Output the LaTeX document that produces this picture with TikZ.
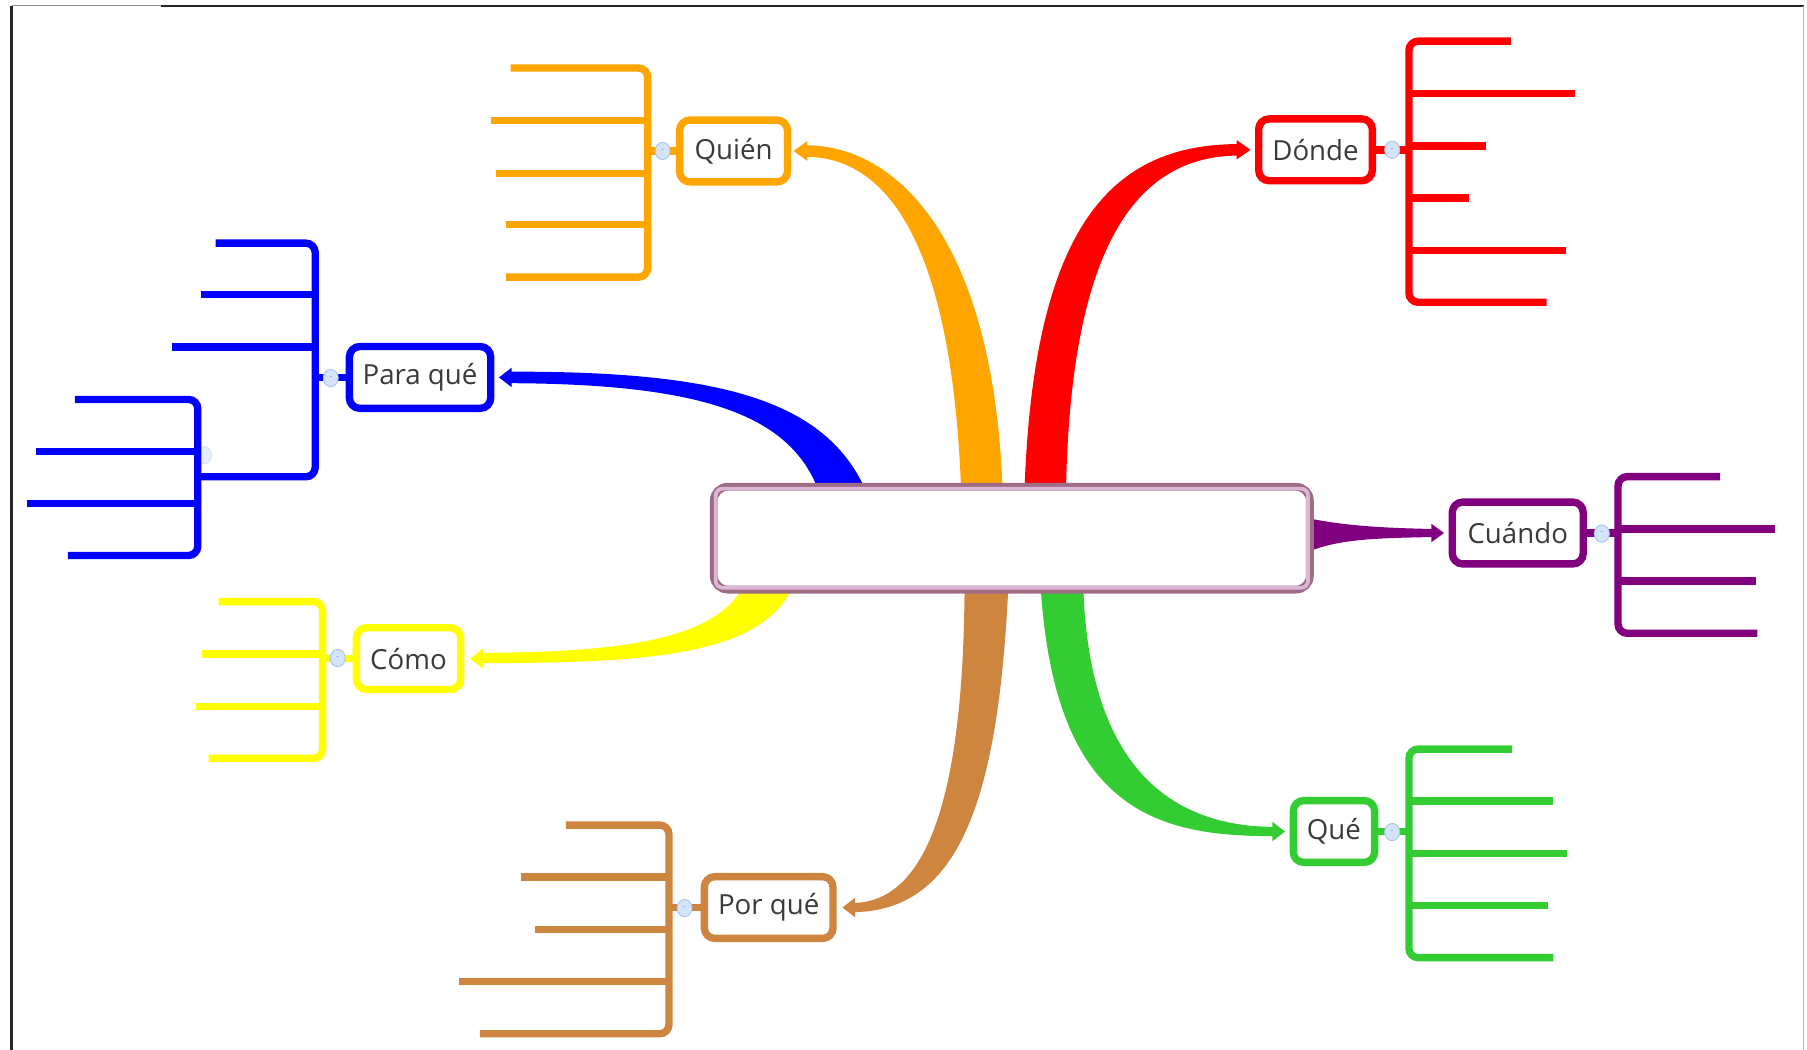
\documentclass[tikz,border=0pt]{standalone}
\usepackage{fontspec}
\setmainfont{Open Sans}
\usetikzlibrary{calc,shapes.geometric}
\pgfdeclarelayer{bg}
\pgfsetlayers{bg,main}
\definecolor{cOr}{HTML}{FFA500}
\definecolor{cRe}{HTML}{FF0000}
\definecolor{cBl}{HTML}{0000FF}
\definecolor{cYe}{HTML}{FFFF00}
\definecolor{cPe}{HTML}{CD853F}
\definecolor{cGr}{HTML}{33CC33}
\definecolor{cPu}{HTML}{800080}
\definecolor{cMa}{HTML}{9E6C86}
\definecolor{cPk}{HTML}{DDB8D6}
\definecolor{cTx}{HTML}{3A3A3A}
\definecolor{cCi}{HTML}{D4E4FA}
\definecolor{cCb}{HTML}{A9C6EE}
\begin{document}
\begin{tikzpicture}[x=0.5pt,y=-0.5pt,
  topic/.style={draw=#1, line width=3.2pt, rounded corners=4.5pt, fill=white, text=cTx,
    font=\fontsize{12}{14}\selectfont, minimum height=26.8pt, inner sep=0pt},
  brk/.style={draw=#1, line width=3.2pt, rounded corners=4pt},
  lnk/.style={draw=#1, line width=3.2pt},
  knob/.style={ellipse, fill=cCi, draw=cCb, line width=0.4pt, minimum width=6.5pt, minimum height=7.5pt, inner sep=0pt,
    font=\fontsize{4}{4}\selectfont, text=cCb!80!black}
]
\useasboundingbox (0,0) rectangle (1568,911);
% frame
\draw[black!45, line width=0.5pt] (10,5) -- (140,5);
\draw[black!85, line width=0.9pt] (140,5) -- (1565,5);
\draw[black!85, line width=0.9pt] (10,5) -- (10,915);
\draw[black!30, line width=0.5pt] (1565,5) -- (1565,911);

% central node
\node[draw=cMa, line width=3.4pt, rounded corners=6pt, fill=white, minimum width=258.6pt,
      minimum height=44.6pt, inner sep=0pt] (centro) at (878,467) {};
\draw[cPk, line width=1.6pt, rounded corners=3pt]
  ($(centro.north west)+(5,5)$) rectangle ($(centro.south east)+(-5,-5)$);

% topic nodes
\node[topic=cOr, minimum width=46.8pt] (quien)   at (636.5,131)   {Quién};
\node[topic=cRe, minimum width=49.3pt] (donde)   at (1141.5,130)  {Dónde};
\node[topic=cBl, minimum width=61.3pt] (paraque) at (364.5,327.5) {Para qué};
\node[topic=cYe, minimum width=45.3pt] (como)    at (354.5,571.5) {Cómo};
\node[topic=cPe, minimum width=55.8pt] (porque)  at (667,787.5)   {Por qué};
\node[topic=cGr, minimum width=35.3pt] (que)     at (1157.5,721.5){Qué};
\node[topic=cPu, minimum width=56.8pt] (cuando)  at (1317,462.5)  {Cuándo};

% tapered connectors
\begin{pgfonlayer}{bg}
\fill[cOr] (870,425) .. controls (862,210) and (780,126) .. ($(quien.east)+(12,-5)$)
  -- ($(quien.east)+(12,5)$) .. controls (772,136) and (826,215) .. (834,425) -- cycle;
\fill[cOr] ($(quien.east)+(2,0)$) -- ($(quien.east)+(14,-8.5)$) -- ($(quien.east)+(14,8.5)$) -- cycle;

\fill[cRe] (889,425) .. controls (897,195) and (965,125) .. ($(donde.west)+(-14,-5)$)
  -- ($(donde.west)+(-14,5)$) .. controls (985,135) and (929,215) .. (925,425) -- cycle;
\fill[cRe] ($(donde.west)+(-4,0)$) -- ($(donde.west)+(-16,-8.5)$) -- ($(donde.west)+(-16,8.5)$) -- cycle;

\fill[cBl] (751,425) .. controls (715,345) and (620,322) .. ($(paraque.east)+(12,-5)$)
  -- ($(paraque.east)+(12,5)$) .. controls (610,333) and (685,360) .. (710,425) -- cycle;
\fill[cBl] ($(paraque.east)+(4,0)$) -- ($(paraque.east)+(15,-8.5)$) -- ($(paraque.east)+(15,8.5)$) -- cycle;

\fill[cYe] (645,509) .. controls (620,555) and (540,566) .. ($(como.east)+(14,-5)$)
  -- ($(como.east)+(14,4)$) .. controls (560,575) and (660,570) .. (688,509) -- cycle;
\fill[cYe] ($(como.east)+(5,0)$) -- ($(como.east)+(16,-8.5)$) -- ($(como.east)+(16,8.5)$) -- cycle;

\fill[cPe] (875,509) .. controls (866,700) and (830,790) .. ($(porque.east)+(15,4)$)
  -- ($(porque.east)+(15,-4)$) .. controls (805,782) and (836,690) .. (837,509) -- cycle;
\fill[cPe] ($(porque.east)+(5,0)$) -- ($(porque.east)+(16,-8.5)$) -- ($(porque.east)+(16,8.5)$) -- cycle;

\fill[cGr] (903,509) .. controls (915,700) and (1000,726) .. ($(que.west)+(-14,4)$)
  -- ($(que.west)+(-14,-4)$) .. controls (1020,717) and (945,670) .. (940,509) -- cycle;
\fill[cGr] ($(que.west)+(-4,0)$) -- ($(que.west)+(-15,-8.5)$) -- ($(que.west)+(-15,8.5)$) -- cycle;

\fill[cPu] (1132,449) .. controls (1160,455) and (1190,458) .. ($(cuando.west)+(-14,-3.5)$)
  -- ($(cuando.west)+(-14,3.5)$) .. controls (1190,467) and (1160,468) .. (1132,480) -- cycle;
\fill[cPu] ($(cuando.west)+(-4,0)$) -- ($(cuando.west)+(-15,-8)$) -- ($(cuando.west)+(-15,8)$) -- cycle;
\end{pgfonlayer}

% Quién bracket
\draw[lnk=cOr] (quien.west) -- (562,131);
\draw[brk=cOr] (443,59) -- (562,59) -- (562,240.5) -- (439,240.5);
\draw[brk=cOr] (426,104.6) -- (562,104.6) (430,150.8) -- (562,150.8) (439,195) -- (562,195);
\node[knob] (kq) at (575,131) {-};

% Dónde bracket
\draw[lnk=cRe] (donde.east) -- (1222.6,130);
\draw[brk=cRe] (1311,35.7) -- (1222.6,35.7) -- (1222.6,262.3) -- (1342,262.3);
\draw[brk=cRe] (1366.5,81.3) -- (1222.6,81.3) (1289.5,126.7) -- (1222.6,126.7)
  (1274.4,171.7) -- (1222.6,171.7) (1359,217.3) -- (1222.6,217.3);
\node[knob] (kd) at (1208,130) {-};

% Para qué bracket
\draw[lnk=cBl] (paraque.west) -- (273.5,327.5);
\node[knob, fill=cCi!60, draw=cCb!50] (kp2) at (177,395) {};
\draw[brk=cBl] (187,211) -- (273.5,211) -- (273.5,413.7) -- (171.6,413.7);
\draw[brk=cBl] (174,255.6) -- (273.5,255.6) (149,301) -- (273.5,301);
\draw[brk=cBl] (65,346.6) -- (171.6,346.6) -- (171.6,482) -- (59,482);
\draw[brk=cBl] (31.5,391.6) -- (171.6,391.6) (23,436.8) -- (171.6,436.8);
\node[knob] (kp) at (287,328) {-};

% Cómo bracket
\draw[lnk=cYe] (como.west) -- (280,571.5);
\draw[brk=cYe] (189.7,522) -- (280,522) -- (280,658) -- (181,658);
\draw[brk=cYe] (175.7,567.4) -- (280,567.4) (170,612.8) -- (280,612.8);
\node[knob] (kc) at (293,571) {-};

% Por qué bracket
\draw[lnk=cPe] (porque.west) -- (580.5,787.5);
\draw[brk=cPe] (491,716) -- (580.5,716) -- (580.5,897) -- (416.5,897);
\draw[brk=cPe] (452,761) -- (580.5,761) (464.5,806.5) -- (580.5,806.5) (398.4,851.8) -- (580.5,851.8);
\node[knob] (kpq) at (594,788) {-};

% Qué bracket
\draw[lnk=cGr] (que.east) -- (1222.6,721.5);
\draw[brk=cGr] (1312,650) -- (1222.6,650) -- (1222.6,831) -- (1348,831);
\draw[brk=cGr] (1348,695) -- (1222.6,695) (1360,740.5) -- (1222.6,740.5) (1343,785.9) -- (1222.6,785.9);
\node[knob] (kqu) at (1208,722) {-};

% Cuándo bracket
\draw[lnk=cPu] (cuando.east) -- (1404,462.5);
\draw[brk=cPu] (1492.5,413.6) -- (1404,413.6) -- (1404,549.5) -- (1525,549.5);
\draw[brk=cPu] (1540,459) -- (1404,459) (1524,504) -- (1404,504);
\node[knob] (kcu) at (1390,463) {-};
\end{tikzpicture}
\end{document}
